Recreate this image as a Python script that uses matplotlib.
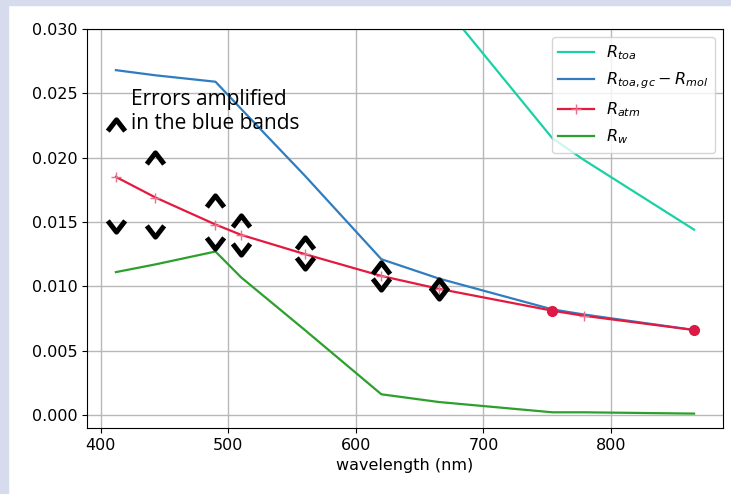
import matplotlib
matplotlib.use("Agg")
import matplotlib.pyplot as plt
from matplotlib.path import Path
from matplotlib.patches import Rectangle

# ---- data ----
wavelength = [412, 443, 490, 510, 560, 620, 665, 754, 779, 865]
r_toa = [0.080, 0.072, 0.063, 0.058, 0.050, 0.040, 0.0323, 0.0215, 0.0198, 0.0144]
r_toa_gc_mol = [0.0268, 0.0264, 0.0259, 0.0238, 0.0186, 0.0121, 0.0106, 0.0082, 0.0078, 0.0066]
r_atm = [0.0185, 0.0169, 0.0148, 0.0140, 0.0125, 0.0108, 0.0098, 0.0081, 0.0077, 0.0066]
r_w = [0.0111, 0.0117, 0.0127, 0.0107, 0.0066, 0.0016, 0.0010, 0.0002, 0.0002, 0.0001]
dot_wl = [754, 865]
dot_val = [0.0081, 0.0066]

err_wl = [412, 443, 490, 510, 560, 620, 665]
err_up = [0.0225, 0.0200, 0.01665, 0.0151, 0.0134, 0.01145, 0.0101]
err_down = [0.0147, 0.0143, 0.0134, 0.0129, 0.0118, 0.0102, 0.0095]

labels = [r"$R_{toa}$", r"$R_{toa,gc} - R_{mol}$", r"$R_{atm}$", r"$R_{w}$"]
note = "Errors amplified\nin the blue bands"

# ---- figure ----
fig = plt.figure(figsize=(7.31, 4.94), dpi=100)
fig.patch.set_facecolor("white")
lav = "#d6dcee"
fig.patches.append(Rectangle((0, 0), 8 / 731, 1, transform=fig.transFigure, color=lav, zorder=-10))
fig.patches.append(Rectangle((0, 1 - 5 / 494), 1, 5 / 494, transform=fig.transFigure, color=lav, zorder=-10))

ax = fig.add_axes([87 / 731, 66 / 494, (723 - 87) / 731, (428 - 29) / 494])

ax.plot(wavelength, r_toa, color="#1ad1a6", lw=1.6, label=labels[0])
ax.plot(wavelength, r_toa_gc_mol, color="#2f7dc0", lw=1.6, label=labels[1])
ax.plot(wavelength, r_atm, color="#e5193f", lw=1.6, marker="+", markersize=7,
        markeredgecolor="#e8708a", label=labels[2])
ax.plot(dot_wl, dot_val, linestyle="none", marker="o", markersize=7, color="#dd1a45")
ax.plot(wavelength, r_w, color="#2ca02c", lw=1.6, label=labels[3])

up = Path([(-1, -0.65), (0, 0.65), (1, -0.65)], [Path.MOVETO, Path.LINETO, Path.LINETO])
down = Path([(-1, 0.65), (0, -0.65), (1, 0.65)], [Path.MOVETO, Path.LINETO, Path.LINETO])
for vals, mk in ((err_up, up), (err_down, down)):
    ax.plot(err_wl, vals, linestyle="none", marker=mk, markersize=12.5, markerfacecolor="none",
            markeredgecolor="black", markeredgewidth=3.6, zorder=5)

ax.text(423.5, 0.0236, note, fontsize=15, family=["Open Sans", "DejaVu Sans"],
        va="center", ha="left", linespacing=1.15)

ax.set_ylim(-0.00102, 0.030)
ax.set_xticks([400, 500, 600, 700, 800])
ax.set_yticks([0.000, 0.005, 0.010, 0.015, 0.020, 0.025, 0.030])
ax.grid(True, color="#b8b8b8", lw=1.0)
ax.tick_params(labelsize=11.5)
ax.set_xlabel("wavelength (nm)", fontsize=11.5)
ax.legend(loc="upper right", fontsize=11.5, labelspacing=0.55, handlelength=2.2)

fig.savefig("out.png", dpi=100)
